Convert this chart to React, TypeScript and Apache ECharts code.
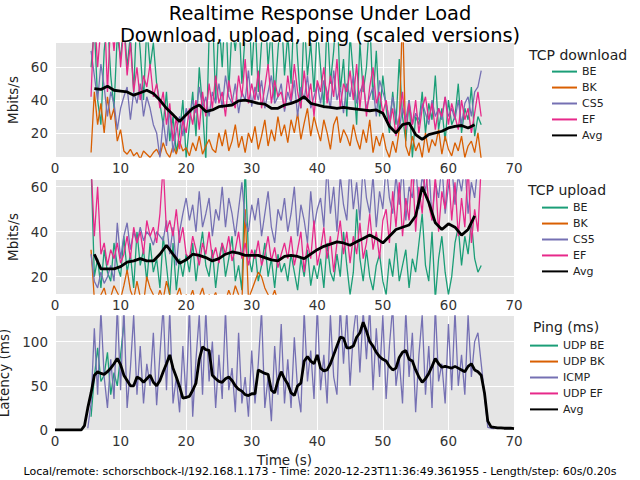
import React, { useEffect, useRef } from 'react';
import * as echarts from 'echarts';

const FONT = 'DejaVu Sans';
const C_BE = '#1b9e77';
const C_BK = '#d95f02';
const C_CS5 = '#7570b3';
const C_EF = '#e7298a';
const C_AVG = '#000000';

const titleText = 'Realtime Response Under Load\nDownload, upload, ping (scaled versions)';
const footerText = 'Local/remote: schorschbock-l/192.168.1.173 - Time: 2020-12-23T11:36:49.361955 - Length/step: 60s/0.20s';

const dlYTicks = [20, 40, 60];
const ulYTicks = [20, 40, 60];
const pingYTicks = [0, 50, 100];
const dlLegend = ['BE', 'BK', 'CS5', 'EF', 'Avg'];
const pingLegend = ['UDP BE', 'UDP BK', 'ICMP', 'UDP EF', 'Avg'];

// TCP series sampled every 0.5 s starting at 5.5 s
const TCP_START = 5.5;
const TCP_STEP = 0.5;
// averages sampled every 1 s starting at 6 s
const AVG_START = 6;
const AVG_STEP = 1;

// ---- TCP download (Mbits/s) ----
const dlBE = [
  60, 85, 40, 25, 70, 90, 55, 35, 80, 65,
  90, 60, 80, 45, 95, 70, 40, 85, 60, 75,
  50, 38, 25, 45, 15, 30, 8, 20, 40, 5,
  25, 45, 18, 60, 35, 3, 80, 95, 40, 90,
  60, 100, 45, 85, 70, 95, 50, 80, 110, 55,
  90, 45, 75, 100, 60, 85, 40, 70, 95, 55,
  80, 50, 100, 65, 35, 90, 55, 75, 45, 85,
  60, 35, 90, 50, 70, 100, 45, 65, 30, 80,
  55, 25, 75, 45, 60, 90, 40, 70, 30, 55,
  35, 20, 45, 25, 65, 30, 15, 40, 5, 30,
  25, 45, 20, 38, 28, 55, 22, 35, 15, 40,
  25, 30, 50, 20, 35, 28, 48, 18, 30, 25,
];
const dlBK = [
  8, 45, 25, 38, 20, 42, 28, 35, 15, 22,
  9, 7, 10, 6, 8, 4, 9, 7, 5, 8,
  10, 6, 14, 8, 5, 12, 7, 15, 9, 11,
  6, 14, 9, 18, 7, 12, 16, 10, 8, 20,
  12, 22, 9, 15, 25, 11, 18, 8, 20, 14,
  24, 10, 18, 28, 12, 22, 15, 30, 18, 25,
  14, 28, 20, 32, 16, 26, 35, 18, 30, 22,
  15, 28, 20, 10, 25, 30, 14, 22, 18, 12,
  25, 16, 10, 22, 14, 28, 8, 18, 12, 20,
  10, 5, 15, 8, 22, 95, 12, 6, 18, 9,
  14, 5, 20, 8, 16, 12, 22, 7, 18, 10,
  6, 14, 9, 18, 5, 12, 15, 8, 20, 4,
];
const dlCS5 = [
  70, 55, 40, 62, 48, 30, 45, 38, 22, 35,
  42, 48, 28, 45, 38, 50, 30, 42, 35, 25,
  20, 5, 28, 12, 35, 8, 22, 30, 18, 35,
  28, 40, 32, 48, 35, 42, 30, 45, 38, 50,
  35, 55, 42, 38, 50, 32, 45, 40, 58, 36,
  48, 40, 52, 35, 45, 55, 38, 42, 50, 33,
  45, 38, 52, 30, 48, 40, 55, 35, 42, 50,
  38, 52, 45, 35, 58, 40, 48, 32, 50, 42,
  55, 38, 45, 50, 35, 42, 48, 30, 52, 45,
  38, 28, 42, 30, 22, 35, 28, 40, 25, 32,
  28, 38, 32, 25, 40, 30, 35, 28, 42, 30,
  35, 28, 40, 25, 38, 42, 30, 45, 48, 58,
];
const dlEF = [
  42, 95, 60, 85, 100, 45, 90, 70, 95, 60,
  85, 55, 75, 45, 60, 40, 55, 48, 62, 42,
  50, 35, 45, 25, 38, 15, 30, 10, 28, 20,
  35, 25, 40, 22, 45, 30, 50, 35, 55, 38,
  45, 30, 52, 40, 35, 55, 42, 65, 38, 50,
  40, 58, 35, 48, 62, 38, 52, 42, 45, 35,
  55, 40, 62, 45, 35, 58, 40, 50, 30, 52,
  45, 60, 38, 55, 42, 65, 35, 50, 45, 58,
  40, 62, 35, 55, 30, 48, 60, 38, 45, 32,
  40, 25, 35, 18, 30, 45, 22, 38, 25, 40,
  20, 35, 42, 28, 38, 22, 35, 30, 42, 25,
  38, 30, 22, 40, 28, 35, 20, 32, 45, 30,
];
const dlAvg = [
  47, 46.5, 48.5, 46, 45.5, 45, 43, 44.5, 46, 44,
  40, 35, 31, 27, 31, 35, 37, 33, 34, 36,
  36.5, 37, 39.5, 40, 39, 38, 37.5, 35, 35, 37,
  38, 39.5, 42, 38, 37, 36, 35.5, 35, 35.5, 35,
  34.5, 34, 33.5, 34, 32, 24, 20, 25, 26, 19,
  16, 19, 20, 21, 23, 24, 24.5, 23, 25,
];

// ---- TCP upload (Mbits/s) ----
const ulBE = [
  70, 20, 28, 15, 32, 22, 18, 35, 25, 20,
  38, 22, 30, 15, 40, 25, 32, 18, 35, 22,
  28, 15, 38, 25, 11, 35, 14, 28, 20, 30,
  22, 35, 18, 30, 40, 25, 20, 32, 15, 28,
  35, 20, 28, 38, 18, 25, 14, 70, 30, 22,
  32, 18, 25, 35, 20, 28, 15, 30, 22, 26,
  18, 30, 22, 14, 28, 20, 32, 16, 25, 19,
  28, 15, 35, 22, 18, 30, 20, 40, 25, 12,
  22, 50, 28, 18, 32, 20, 14, 25, 30, 18,
  12, 28, 20, 35, 18, 25, 32, 15, 28, 22,
  35, 48, 25, 18, 40, 10, 28, 38, 22, 12,
  20, 35, 42, 25, 38, 30, 45, 28, 22, 25,
];
const ulBK = [
  32, 10, 8, 12, 15, 9, 11, 16, 13, 10,
  16, 23, 14, 10, 18, 11, 8, 20, 15, 12,
  9, 14, 10, 18, 12, 8, 11, 15, 9, 12,
  10, 14, 8, 11, 15, 9, 12, 10, 13, 8,
  11, 9, 14, 10, 16, 12, 8, 50, 10, 14,
  18, 22, 20, 15, 12, 10, 14, 9, 11, 8,
  9, 7, 11, 8, 10, 6, 9, 11, 7, 8,
  10, 6, 8, 11, 7, 9, 5, 10, 8, 6,
  9, 11, 7, 8, 10, 6, 9, 7, 11, 8,
  6, 9, 8, 10, 7, 5, 9, 11, 6, 8,
  10, 7, 9, 6, 8, 11, 7, 9, 5, 8,
  7, 10, 6, 9, 8, 11, 6, 8, 10, 7,
];
const ulCS5 = [
  30, 18, 15, 22, 17, 20, 25, 18, 44, 28,
  38, 44, 32, 40, 35, 42, 36, 40, 38, 34,
  40, 38, 36, 45, 30, 42, 25, 40, 48, 55,
  45, 52, 40, 58, 42, 48, 55, 38, 50, 45,
  60, 42, 55, 48, 38, 50, 62, 45, 40, 52,
  45, 55, 38, 48, 58, 42, 35, 50, 45, 55,
  40, 48, 60, 38, 52, 45, 35, 58, 42, 50,
  55, 42, 70, 48, 60, 40, 65, 52, 45, 70,
  50, 62, 45, 70, 55, 48, 65, 42, 58, 50,
  70, 55, 48, 65, 52, 70, 45, 60, 55, 70,
  50, 65, 58, 70, 45, 62, 55, 70, 48, 60,
  70, 52, 65, 58, 70, 48, 62, 55, 70, 85,
];
const ulEF = [
  70, 38, 60, 30, 35, 25, 32, 28, 35, 26,
  30, 38, 28, 42, 35, 40, 30, 45, 38, 42,
  35, 48, 70, 40, 45, 38, 50, 35, 42, 30,
  28, 38, 32, 25, 35, 30, 40, 28, 33, 26,
  35, 30, 38, 27, 32, 40, 28, 35, 25, 32,
  28, 36, 25, 30, 38, 27, 33, 24, 30, 35,
  28, 38, 25, 32, 40, 22, 35, 28, 45, 25,
  32, 42, 28, 38, 22, 35, 45, 30, 40, 26,
  38, 30, 44, 28, 35, 48, 32, 40, 28, 45,
  50, 35, 58, 42, 62, 38, 55, 45, 70, 40,
  60, 48, 70, 52, 45, 65, 40, 58, 50, 68,
  45, 62, 38, 55, 42, 70, 35, 50, 40, 70,
];
const ulAvg = [
  30, 23.5, 23.5, 23.5, 24.5, 26.5, 27, 28, 27, 27,
  30, 34, 30, 26, 27.5, 30, 29.5, 28.5, 27, 28,
  30, 31, 30.5, 29.5, 29.5, 29.5, 28.5, 27.5, 27, 29,
  29.5, 29, 28, 30, 32, 33.5, 34.5, 35.5, 35, 34,
  35.5, 37, 38.5, 37, 35, 38, 41, 42, 43, 47,
  60, 53, 44, 41, 43.5, 42, 38.5, 41, 47,
];

// ---- Ping (ms) ----
const UDP_START = 5.5;
const ICMP_START = 5.0;
const PING_STEP = 0.5;
const PING_AVG_START = 0;
const udpBE = [15, 60, 93, 55, 62, 88, 40, 65, 50, 85, 120];
const udpBK: number[] = [];
const udpEF: number[] = [];
const icmp = [
  2, 30, 115, 40, 135, 60, 25, 80, 35, 140,
  45, 140, 25, 70, 130, 40, 95, 30, 75, 50,
  110, 28, 85, 140, 45, 135, 30, 60, 20, 95,
  35, 140, 15, 80, 130, 40, 135, 55, 100, 25,
  85, 35, 135, 45, 70, 20, 110, 30, 60, 15,
  90, 30, 75, 135, 25, 60, 10, 95, 40, 120,
  30, 80, 25, 105, 45, 20, 135, 55, 90, 35,
  140, 45, 85, 30, 130, 60, 40, 140, 75, 135,
  50, 110, 140, 65, 135, 80, 140, 45, 115, 60,
  130, 35, 95, 140, 50, 80, 30, 135, 60, 110,
  20, 85, 130, 40, 95, 25, 140, 55, 75, 30,
  120, 45, 135, 50, 85, 40, 130, 60, 100, 110,
  75, 40, 3, 2, 1.5,
];
const pingAvg = [
  0, 0, 0, 0, 0, 0, 0, 0, 0, 5,
  25, 42, 62, 66, 64, 63, 66, 70, 75, 81,
  74, 62, 56, 50, 50, 60, 58, 54, 58, 62,
  54, 50, 56, 66, 75, 85, 70, 60, 49, 36,
  37, 38, 45, 53, 80, 94, 91, 90, 62, 58,
  55, 54, 58, 60, 56, 50, 46, 44, 40, 39,
  41, 41, 68, 66, 64, 63, 45, 42, 56, 66,
  58, 52, 42, 39, 50, 53, 78, 83, 78, 75,
  85, 70, 67, 68, 75, 85, 95, 105, 104, 93,
  93, 95, 105, 110, 122, 112, 100, 95, 88, 83,
  80, 78, 72, 68, 70, 82, 88, 90, 80, 78,
  68, 60, 54, 58, 64, 72, 81, 75, 71, 72,
  71, 70, 72, 70, 68, 66, 72, 75, 68, 66,
  62, 42, 10, 3.5, 3, 2.5, 2.5, 2, 2, 2,
  1.5,
];

function pts(start: number, step: number, vals: number[]) {
  return vals.map((v, i) => [Math.round((start + i * step) * 100) / 100, v]);
}

function lineSeries(name: string, color: string, data: number[][], idx: number, width = 1.3) {
  return {
    type: 'line',
    name,
    data,
    xAxisIndex: idx,
    yAxisIndex: idx,
    symbol: 'none',
    showSymbol: false,
    clip: true,
    lineStyle: { color, width },
    itemStyle: { color },
    emphasis: { disabled: true },
  };
}

const tickFont = { fontSize: 13.5, color: '#333', fontFamily: FONT };
const nameFont = { fontSize: 13.5, color: '#222', fontFamily: FONT, lineHeight: 13.5 };

function xAxisCfg(idx: number, withName: boolean) {
  return {
    type: 'value',
    gridIndex: idx,
    min: 0,
    max: 70,
    interval: 10,
    axisLine: { show: false },
    axisTick: { show: false },
    splitLine: { show: true, lineStyle: { color: '#ffffff', width: 1 } },
    axisLabel: { ...tickFont, margin: 4 },
    name: withName ? 'Time (s)' : '',
    nameLocation: 'middle',
    nameGap: 23,
    nameTextStyle: nameFont,
  };
}

function yAxisCfg(idx: number, min: number, max: number, ticks: number[], name: string, gap: number) {
  return {
    type: 'value',
    gridIndex: idx,
    min,
    max,
    axisLine: { show: false },
    axisTick: { show: false, customValues: ticks },
    axisLabel: { ...tickFont, margin: 7, customValues: ticks },
    splitLine: { show: true, lineStyle: { color: '#ffffff', width: 1 } },
    name,
    nameLocation: 'middle',
    nameGap: gap,
    nameTextStyle: nameFont,
  };
}

function legendCfg(data: string[], left: number, top: number, itemWidth: number) {
  return {
    orient: 'vertical',
    left,
    top,
    padding: 0,
    itemWidth,
    itemHeight: 14,
    itemGap: 4.75,
    data,
    selectedMode: false,
    itemStyle: { opacity: 0 },
    textStyle: { fontSize: 11, color: '#222', fontFamily: FONT },
  };
}

function legendTitle(text: string, x: number, y: number) {
  return {
    type: 'text',
    x,
    y,
    style: { text, fontSize: 14, fontFamily: FONT, fill: '#222', verticalAlign: 'middle', align: 'left' },
  };
}

export default function App() {
  const ref = useRef<HTMLDivElement>(null);
  useEffect(() => {
    if (!ref.current) return;
    const chart = echarts.init(ref.current, null, { renderer: 'svg' });
    const gridBase = { left: 55, width: 459, height: 114, backgroundColor: '#e5e5e5', show: true, borderWidth: 0, containLabel: false, outerBoundsMode: 'none' };
    chart.setOption({
      animation: false,
      backgroundColor: '#ffffff',
      title: {
        text: titleText,
        left: 'center',
        top: 2,
        padding: 0,
        textStyle: { fontSize: 19.4, fontWeight: 'normal', color: '#000', fontFamily: FONT, lineHeight: 22 },
      },
      grid: [
        { ...gridBase, top: 43 },
        { ...gridBase, top: 180 },
        { ...gridBase, top: 316 },
      ],
      xAxis: [xAxisCfg(0, false), xAxisCfg(1, false), xAxisCfg(2, true)],
      yAxis: [
        yAxisCfg(0, 5.3, 74.8, dlYTicks, 'Mbits/s', 29),
        yAxisCfg(1, 12.3, 63, ulYTicks, 'Mbits/s', 29),
        yAxisCfg(2, 0, 129, pingYTicks, 'Latency (ms)', 36),
      ],
      legend: [
        legendCfg(dlLegend, 551, 66, 25),
        legendCfg(dlLegend, 541, 202, 26),
        legendCfg(pingLegend, 529, 340, 28),
      ],
      graphic: [
        legendTitle('TCP download', 529, 55),
        legendTitle('TCP upload', 528, 190),
        legendTitle('Ping (ms)', 533, 327),
        {
          type: 'text',
          x: 320,
          y: 471,
          style: { text: footerText, fontSize: 11, fontFamily: FONT, fill: '#000', align: 'center', verticalAlign: 'middle' },
        },
      ],
      series: [
        lineSeries('BE', C_BE, pts(TCP_START, TCP_STEP, dlBE), 0),
        lineSeries('BK', C_BK, pts(TCP_START, TCP_STEP, dlBK), 0),
        lineSeries('CS5', C_CS5, pts(TCP_START, TCP_STEP, dlCS5), 0),
        lineSeries('EF', C_EF, pts(TCP_START, TCP_STEP, dlEF), 0),
        lineSeries('Avg', C_AVG, pts(AVG_START, AVG_STEP, dlAvg), 0, 2.8),
        lineSeries('BE', C_BE, pts(TCP_START, TCP_STEP, ulBE), 1),
        lineSeries('BK', C_BK, pts(TCP_START, TCP_STEP, ulBK), 1),
        lineSeries('CS5', C_CS5, pts(TCP_START, TCP_STEP, ulCS5), 1),
        lineSeries('EF', C_EF, pts(TCP_START, TCP_STEP, ulEF), 1),
        lineSeries('Avg', C_AVG, pts(AVG_START, AVG_STEP, ulAvg), 1, 2.8),
        lineSeries('UDP BE', C_BE, pts(UDP_START, PING_STEP, udpBE), 2),
        lineSeries('UDP BK', C_BK, pts(UDP_START, PING_STEP, udpBK), 2),
        lineSeries('ICMP', C_CS5, pts(ICMP_START, PING_STEP, icmp), 2),
        lineSeries('UDP EF', C_EF, pts(UDP_START, PING_STEP, udpEF), 2),
        lineSeries('Avg', C_AVG, pts(PING_AVG_START, PING_STEP, pingAvg), 2, 2.8),
      ],
    });
    return () => chart.dispose();
  }, []);
  return <div ref={ref} style={{ position: 'fixed', left: 0, top: 0, width: 640, height: 480 }} />;
}
